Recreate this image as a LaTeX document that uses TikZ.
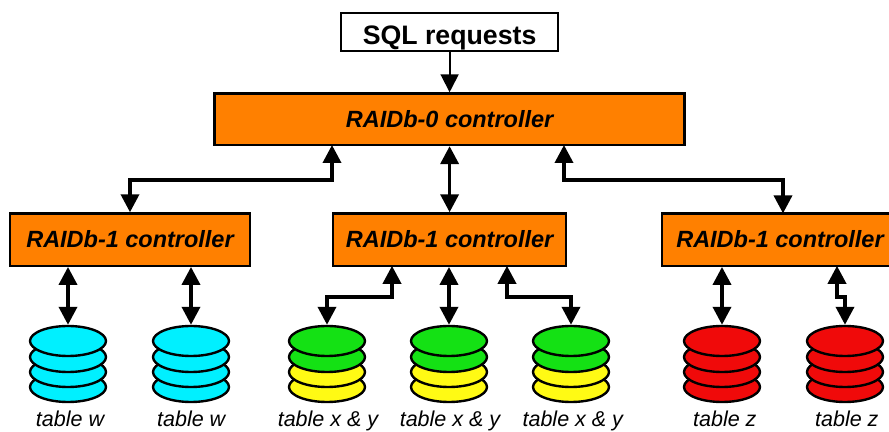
\documentclass[tikz,border=0pt]{standalone}
\usepackage{fontspec}
\setmainfont{Liberation Sans}
\usetikzlibrary{arrows.meta}
\usetikzlibrary{shapes.geometric}

\definecolor{ctrlorange}{RGB}{255,128,0}
\definecolor{diskcyan}{RGB}{0,240,255}
\definecolor{diskgreen}{RGB}{20,225,20}
\definecolor{diskyellow}{RGB}{255,250,20}
\definecolor{diskred}{RGB}{240,10,10}

\tikzset{
	 >={Triangle[width=12.8pt, length=12.8pt]},
	 ctrl/.style = {draw, line width = 1.6 pt, fill = ctrlorange, inner sep = 0, minimum height = 1.31 cm, font = \fontsize{16.7}{18}\selectfont\bfseries\itshape},
	 disk/.style = {draw, ellipse, line width = 1.7 pt, inner sep = 0, minimum width = 1.9 cm, minimum height = 0.75 cm},
	 single/.style = {line width = 1.3 pt, ->},
	 bidir/.style = {line width = 2.6 pt, <->}
}

\begin{document}
\begin{tikzpicture}
	 \clip (0, 0) rectangle (22.225, 10.8);
	 \useasboundingbox (0, 0) rectangle (22.225, 10.8);
	 
	 \node[draw, line width = 1.6 pt, inner sep = 0, minimum width = 5.43 cm, minimum height = 0.94 cm, text height = 17.8 pt, text depth = 0 pt, font = \fontsize{19}{21}\selectfont\bfseries] (sql) at (11.24, 10) {SQL requests};
	 \node[ctrl, minimum width = 11.75 cm, minimum height = 1.29 cm] (root) at (11.24, 7.82) {RAIDb-0 controller};
	 \node[ctrl, minimum width = 6.01 cm] (ctrlA) at (3.25, 4.81) {RAIDb-1 controller};
	 \node[ctrl, minimum width = 5.83 cm] (ctrlB) at (11.24, 4.81) {RAIDb-1 controller};
	 \node[ctrl, minimum width = 5.9 cm] (ctrlC) at (19.5, 4.81) {RAIDb-1 controller};
	 
	 % stacks of disks, named by their top disk
	 \foreach \name/\x/\lx/\txt/\upper/\lower in {
		 w1/1.7/1.75/table w/diskcyan/diskcyan,
		 w2/4.775/4.78/table w/diskcyan/diskcyan,
		 xy1/8.175/8.2/table x \& y/diskgreen/diskyellow,
		 xy2/11.225/11.25/table x \& y/diskgreen/diskyellow,
		 xy3/14.275/14.32/table x \& y/diskgreen/diskyellow,
		 z1/18.05/18.12/table z/diskred/diskred,
		 z2/21.125/21.17/table z/diskred/diskred}
	 {
		 \node[disk, fill = \lower] (\name d) at (\x, 1.125) {};
		 \node[disk, fill = \lower] (\name c) at (\x, 1.5) {};
		 \node[disk, fill = \upper] (\name b) at (\x, 1.875) {};
		 \node[disk, fill = \upper] (\name) at (\x, 2.275) {};
		 \node[anchor = base, font = \fontsize{15.3}{17}\selectfont\itshape] (\name txt) at (\lx, 0.125) {\txt};
	 }
	 
	 \coordinate (rootL) at (8.3, 7.175);
	 \coordinate (rootR) at (14.1, 7.175);
	 \coordinate (ctrlCtop) at (19.575, 5.465);
	 \coordinate (ctrlBL) at (9.8, 4.155);
	 \coordinate (ctrlBR) at (12.675, 4.155);
	 \coordinate (ctrlCR) at (20.925, 4.155);
	 
	 \draw[single] (sql) -- (root);
	 \draw[bidir] (rootL) -- (8.3, 6.3) -| (ctrlA.north);
	 \draw[bidir] (root) -- (ctrlB);
	 \draw[bidir] (rootR) -- (14.1, 6.3) -| (ctrlCtop);
	 
	 \draw[bidir] (ctrlA.south -| w1.north) -- (w1.north);
	 \draw[bidir] (ctrlA.south -| w2.north) -- (w2.north);
	 \draw[bidir] (ctrlBL) -- (9.8, 3.375) -| (xy1.north);
	 \draw[bidir] (ctrlB.south -| xy2.north) -- (xy2.north);
	 \draw[bidir] (ctrlBR) -- (12.675, 3.375) -| (xy3.north);
	 \draw[bidir] (ctrlC.south -| z1.north) -- (z1.north);
	 \draw[bidir] (ctrlCR) -- (20.925, 3.375) -| (z2.north);
\end{tikzpicture}
\end{document}
